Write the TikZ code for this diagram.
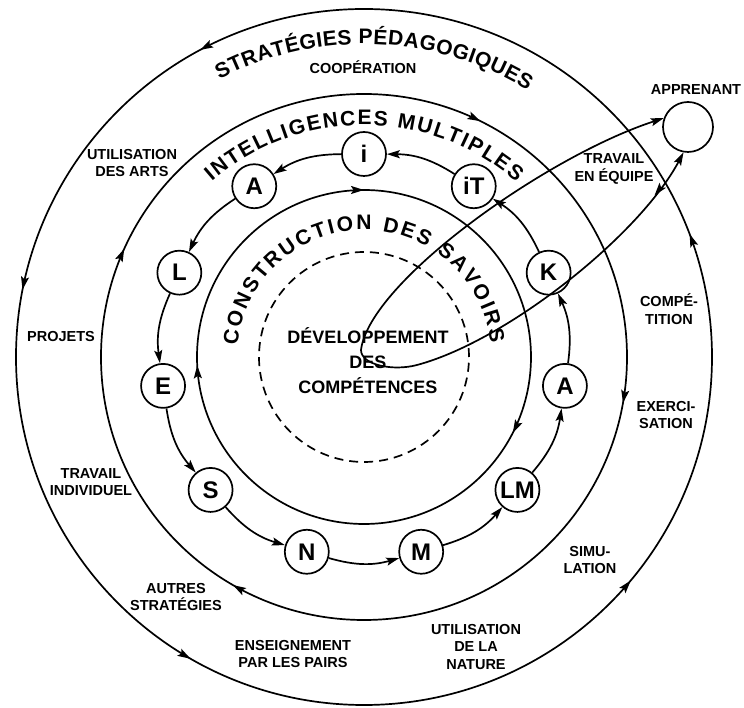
\documentclass[tikz,border=0pt]{standalone}
\usepackage{fontspec}
\setmainfont{Liberation Sans}
\usetikzlibrary{arrows.meta,positioning,decorations.markings,decorations.text}

\tikzset{
  >={Stealth[length=13pt,width=8pt,inset=2.5pt]},
  flow/.style={postaction={decorate,decoration={markings,mark=at position #1 with {\arrow{>}}}}},
  backflow/.style={postaction={decorate,decoration={markings,mark=at position #1 with {\arrowreversed{>}}}}},
  letter/.style={draw,circle,minimum size=44pt,inner sep=0pt,font=\bfseries\fontsize{24}{24}\selectfont},
  lbl/.style={align=center,font=\bfseries\fontsize{14.5}{17.5}\selectfont},
  ringtext/.style={decorate,decoration={text along path,text align={fit to path},
    text={|\bfseries\fontsize{21}{21}\selectfont|#1}}}
}

\begin{document}
\begin{tikzpicture}[x=1pt,y=1pt,line width=1.7pt]
\useasboundingbox (-364,-351) rectangle (380,357);

% les quatre cercles
\draw[dash pattern=on 9pt off 6pt] (0,0) circle[radius=105];
\draw[flow=0.075,flow=0.492,flow=0.75] (360:167) arc[start angle=360,end angle=0,radius=167];
\draw[flow=0.028,flow=0.333,flow=0.5675,flow=0.823] (360:263) arc[start angle=360,end angle=0,radius=263];
\draw[flow=0.0575,flow=0.328,flow=0.469,flow=0.667,flow=0.889] (0:348) arc[start angle=0,end angle=360,radius=348];

% titres sur les cercles
\path[ringtext={STRATÉGIES PÉDAGOGIQUES}] (117.5:313) arc[start angle=117.5,end angle=58.5,radius=313];
\path[ringtext={INTELLIGENCES MULTIPLES}] (131:232) arc[start angle=131,end angle=49,radius=232];
\path[ringtext={CONSTRUCTION DES SAVOIRS}] (175:127) arc[start angle=175,end angle=6,radius=127];

\node[lbl,font=\bfseries\fontsize{18}{25}\selectfont] (dev) at (4,-4) {DÉVELOPPEMENT\\DES\\COMPÉTENCES};

% intelligences
\foreach \t [count=\k from 0] in {i,A,L,E,S,N,M,LM,A,K,iT}
  \node[letter] (n\k) at ({90+\k*360/11}:203) {\t};
\foreach \k [evaluate=\k as \j using {int(mod(\k+1,11))}] in {0,...,10}
  \draw[->] (n\k) to[bend right=16] (n\j);

% strategies
\node[lbl] (coop) at (-1,290) {COOPÉRATION};
\node[lbl] (arts) at (-232,194) {UTILISATION\\DES ARTS};
\node[lbl] (projets) at (-303,20) {PROJETS};
\node[lbl] (indiv) at (-273,-125) {TRAVAIL\\INDIVIDUEL};
\node[lbl] (autres) at (-188,-240) {AUTRES\\STRATÉGIES};
\node[lbl] (pairs) at (-71,-297) {ENSEIGNEMENT\\PAR LES PAIRS};
\node[lbl] (nature) at (112,-290) {UTILISATION\\DE LA\\NATURE};
\node[lbl] (simu) at (226,-203) {SIMU-\\LATION};
\node[lbl] (exerc) at (302,-58) {EXERCI-\\SATION};
\node[lbl] (compet) at (305,48) {COMPÉ-\\TITION};
\node[lbl] (equipe) at (250,188) {TRAVAIL\\EN ÉQUIPE};

% apprenant
\node[draw,circle,minimum size=50pt] (apprenant) at (324,230) {};
\node[lbl,above=2pt of apprenant,xshift=8pt] (apprlbl) {APPRENANT};
\coordinate (loop) at (-3,7);
\coordinate (bend) at (53,-8);
\draw[->] (loop) to[out=83,in=198,out looseness=0.46,in looseness=0.83] (apprenant.160);
\draw[->,backflow=-52pt] (loop) to[out=-90,in=195,out looseness=0.66,in looseness=1.1] (bend)
  to[out=15,in=242,looseness=0.7] (apprenant.-100);
\end{tikzpicture}
\end{document}
